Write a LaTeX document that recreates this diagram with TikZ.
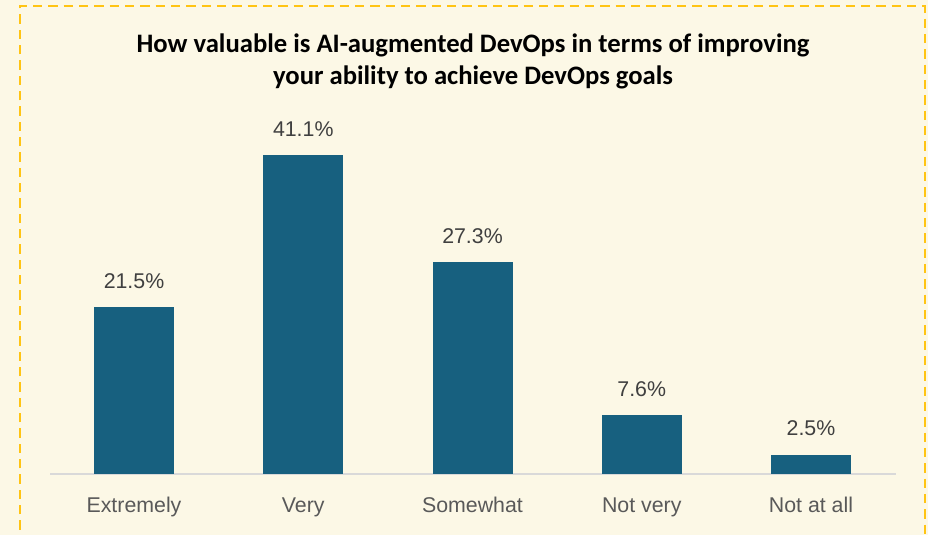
\documentclass[tikz,border=0pt]{standalone}
\usepackage{fontspec}
\setmainfont{Liberation Sans}
\newfontfamily\titlefont{Carlito}
\usepackage{tikz}
\usetikzlibrary{positioning}
\definecolor{paper}{HTML}{FCF8E6}
\definecolor{framegold}{HTML}{FFC414}
\definecolor{barblue}{HTML}{17607F}
\definecolor{axisgray}{HTML}{D9D9D9}
\definecolor{valgray}{HTML}{404040}
\definecolor{catgray}{HTML}{595959}

\begin{document}
\begin{tikzpicture}[x=0.75pt, y=0.75pt]
    \def\barw{80}
    \def\pct{7.75}
    \def\base{61}
    \useasboundingbox (0,0) rectangle (928,535);
    % Background and dashed frame
    \fill[paper] (0,0) rectangle (928,535);
    \draw[framegold, line width=1.5pt, dash pattern=on 7pt off 4.5pt] (20,-10) -- (20,529) -- (925,529) -- (925,-10);
    % Title
    \node[font=\titlefont\bfseries\fontsize{20}{24}\selectfont, align=center] (title) at (473,474)
        {How valuable is AI-augmented DevOps in terms of improving\\your ability to achieve DevOps goals};
    % Axis line
    \coordinate (axl) at (50,\base);
    \coordinate (axr) at (896,\base);
    \draw[axisgray, line width=1.5pt] (axl) -- (axr);
    % Bars with value and category labels
    \foreach \i/\v/\cat in {0/21.5/Extremely, 1/41.1/Very, 2/27.3/Somewhat, 3/7.6/Not very, 4/2.5/Not at all} {
        \pgfmathsetmacro{\cx}{134+169.25*\i}
        \pgfmathsetmacro{\top}{\base+\v*\pct}
        \fill[barblue] (\cx-\barw/2, \base) rectangle (\cx+\barw/2, \top);
        \node[anchor=base, text=valgray, font=\fontsize{16}{19}\selectfont] (val\i) at (\cx, \top+19) {\v\%};
        \node[anchor=base, text=catgray, font=\fontsize{16}{19}\selectfont] (cat\i) at (\cx, 22) {\cat};
    }
\end{tikzpicture}
\end{document}
